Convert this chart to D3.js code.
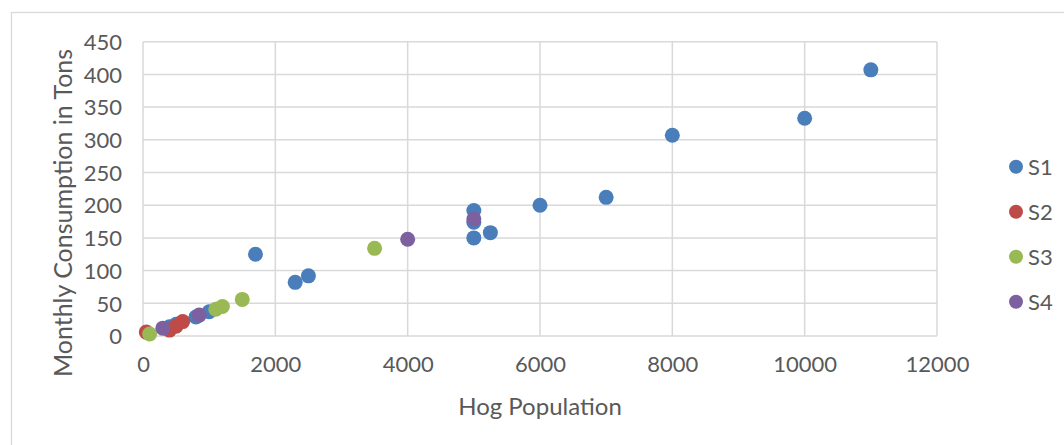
<!DOCTYPE html>
<html>
<head>
<meta charset="utf-8">
<script src="https://cdn.jsdelivr.net/npm/d3@7"></script>
<style>
  html, body { margin: 0; padding: 0; background: #fff; }
  svg { display: block; }
  text { font-family: Lato, "Open Sans", sans-serif; fill: #595959; }
</style>
</head>
<body>
<svg id="chart" width="1064" height="445"></svg>
<script>
// Hog population (x) against monthly feed consumption in tons (y), four sample groups
const seriesNames = ["S1", "S2", "S3", "S4"];
const seriesColors = ["#4A7EBB", "#BE4B48", "#98B954", "#7D60A0"];

const s1Pop  = [400, 500, 800, 1000, 1700, 2300, 2500, 5000, 5000, 5000, 5250, 6000, 7000, 8000, 10000, 11000];
const s1Tons = [14, 18, 29, 37, 125, 82, 92, 150, 174, 192, 158, 200, 212, 307, 333, 407];

const s2Pop  = [50, 400, 500, 600];
const s2Tons = [6, 9, 15, 22];

const s3Pop  = [100, 1100, 1200, 1500, 3500];
const s3Tons = [3, 41, 45, 56, 134];

const s4Pop  = [300, 850, 4000, 5000];
const s4Tons = [12, 32, 148, 179];

const xTicks = [0, 2000, 4000, 6000, 8000, 10000, 12000];
const yTicks = [0, 50, 100, 150, 200, 250, 300, 350, 400, 450];

const xTitle = "Hog Population";
const yTitle = "Monthly Consumption in Tons";

const svg = d3.select("#chart");
const grid = "#D9D9D9";
const tickFont = "22px";

// chart frame
svg.append("rect")
  .attr("x", 11.5).attr("y", 12.5)
  .attr("width", 1100).attr("height", 500)
  .attr("fill", "none").attr("stroke", grid).attr("stroke-width", 1.3);

const plot = { left: 143, right: 937, top: 41.7, bottom: 336 };

const x = d3.scaleLinear().domain([0, 12000]).range([plot.left, plot.right]);
const y = d3.scaleLinear().domain([0, 450]).range([plot.bottom, plot.top]);

// gridlines
svg.append("g").selectAll("line").data(yTicks).join("line")
  .attr("x1", plot.left).attr("x2", plot.right)
  .attr("y1", d => y(d)).attr("y2", d => y(d))
  .attr("stroke", grid).attr("stroke-width", 1.5);

svg.append("g").selectAll("line").data(xTicks).join("line")
  .attr("y1", plot.top).attr("y2", plot.bottom)
  .attr("x1", d => x(d)).attr("x2", d => x(d))
  .attr("stroke", grid).attr("stroke-width", 1.5);

// axes (labels only; lines come from the grid)
const yAxis = d3.axisLeft(y).tickValues(yTicks).tickSize(0).tickPadding(0);
const gy = svg.append("g").attr("transform", `translate(${plot.left - 21},0)`).call(yAxis);
gy.select(".domain").remove();
gy.selectAll("text").style("font-size", tickFont).attr("fill", "#595959")
  .style("font-family", "Lato, sans-serif").attr("dy", "0.35em");

const xAxis = d3.axisBottom(x).tickValues(xTicks).tickSize(0).tickPadding(0).tickFormat(d3.format("d"));
const gx = svg.append("g").attr("transform", `translate(0,${plot.bottom + 20})`).call(xAxis);
gx.select(".domain").remove();
gx.selectAll("text").style("font-size", tickFont).attr("fill", "#595959")
  .style("font-family", "Lato, sans-serif").attr("dy", "0.72em");

// axis titles
svg.append("text")
  .attr("x", (plot.left + plot.right) / 2).attr("y", 415)
  .attr("text-anchor", "middle").style("font-size", "24px")
  .text(xTitle);

svg.append("text")
  .attr("transform", `translate(72,213) rotate(-90)`)
  .attr("text-anchor", "middle").style("font-size", "25px")
  .text(yTitle);

// points
const series = [
  { pop: s1Pop, tons: s1Tons },
  { pop: s2Pop, tons: s2Tons },
  { pop: s3Pop, tons: s3Tons },
  { pop: s4Pop, tons: s4Tons }
];

series.forEach((s, i) => {
  svg.append("g").selectAll("circle").data(s.pop.map((p, j) => [p, s.tons[j]])).join("circle")
    .attr("cx", d => x(d[0])).attr("cy", d => y(d[1]))
    .attr("r", 7.5).attr("fill", seriesColors[i]);
});

// legend
const legend = svg.append("g");
seriesNames.forEach((name, i) => {
  const ly = 166.7 + i * 45;
  legend.append("circle").attr("cx", 1016).attr("cy", ly).attr("r", 7).attr("fill", seriesColors[i]);
  legend.append("text").attr("x", 1028).attr("y", ly).attr("dy", "0.36em")
    .style("font-size", tickFont).text(name);
});
</script>
</body>
</html>
